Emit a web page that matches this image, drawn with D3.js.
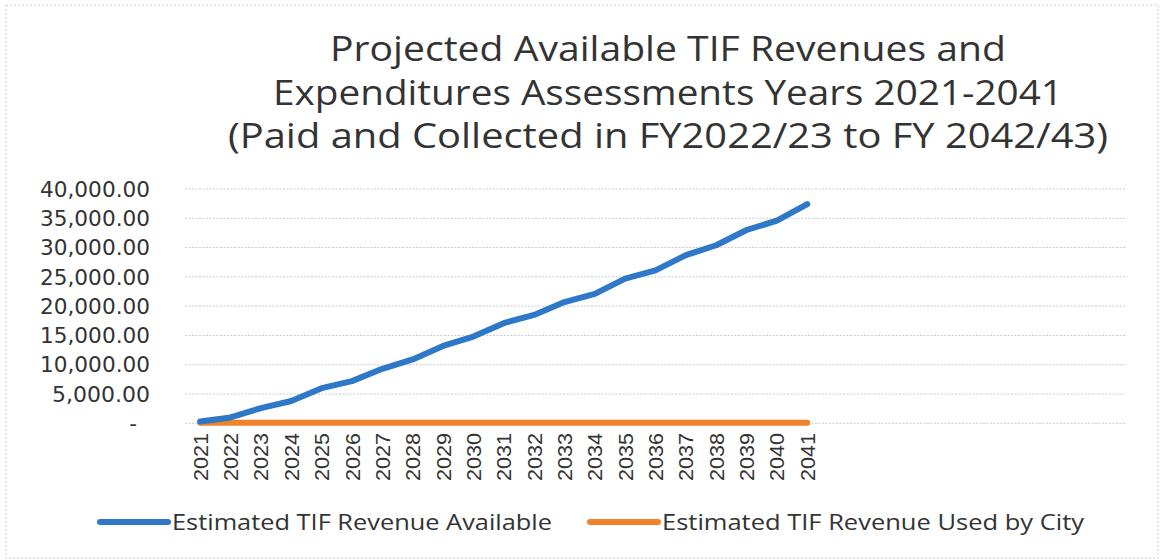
<!DOCTYPE html>
<html>
<head>
<meta charset="utf-8">
<script src="https://cdn.jsdelivr.net/npm/d3@7"></script>
<style>
html,body{margin:0;padding:0;background:#fff;}
svg{display:block;}
</style>
</head>
<body>
<svg id="chart" width="1161" height="560"></svg>
<script>
const titleLines = [
  "Projected Available TIF Revenues and",
  "Expenditures Assessments Years 2021-2041",
  "(Paid and Collected in FY2022/23 to FY 2042/43)"
];
const years = [2021,2022,2023,2024,2025,2026,2027,2028,2029,2030,2031,2032,2033,2034,2035,2036,2037,2038,2039,2040,2041];
const revenueAvailable = [300,1000,2600,3800,6000,7200,9300,10900,13200,14800,17100,18500,20700,22100,24700,26100,28700,30400,33000,34600,37400];
const revenueUsed = [100,100,100,100,100,100,100,100,100,100,100,100,100,100,100,100,100,100,100,100,100];
const yTicks = [0,5000,10000,15000,20000,25000,30000,35000,40000];
const seriesNames = ["Estimated TIF Revenue Available","Estimated TIF Revenue Used by City"];
const seriesColors = ["#2E78C7","#F0832A"];
const totalSlots = 31; // category slots on axis (last ones empty)

const svg = d3.select("#chart");

// border
svg.append("rect").attr("x",6).attr("y",5).attr("width",1152).attr("height",553)
  .attr("fill","none").attr("stroke","#cfcfcf").attr("stroke-width",1).attr("stroke-dasharray","2,2");

// title
const titleW = [676, 790, 880];
const titleY = [61, 105, 148];
svg.append("g").selectAll("text").data(titleLines).join("text")
  .attr("x",668).attr("y",(d,i)=>titleY[i])
  .attr("text-anchor","middle")
  .attr("font-family","'Open Sans', sans-serif")
  .attr("font-size",34)
  .attr("fill","#333")
  .attr("textLength",(d,i)=>titleW[i])
  .attr("lengthAdjust","spacingAndGlyphs")
  .text(d=>d);

const x = d3.scaleBand().domain(d3.range(totalSlots)).range([185,1126]);
const xc = i => x(i) + x.bandwidth()/2;
const y = d3.scaleLinear().domain([0,40000]).range([423.3,189]);

// gridlines
svg.append("g").selectAll("line").data(yTicks).join("line")
  .attr("x1",185).attr("x2",1127)
  .attr("y1",d=>y(d)).attr("y2",d=>y(d))
  .attr("stroke","#c4cad6").attr("stroke-width",1).attr("stroke-dasharray","2,1.5");

// y axis labels
const fmt = d3.format(",.2f");
svg.append("g").selectAll("text").data(yTicks).join("text")
  .attr("x",d=> d===0 ? 137 : 150)
  .attr("y",d=>y(d)).attr("dy","0.36em")
  .attr("text-anchor","end")
  .attr("font-family","'DejaVu Sans', sans-serif")
  .attr("font-size",21.5)
  .attr("fill","#333")
  .attr("textLength",d=> d===0 ? null : (d>=10000 ? 110 : 98))
  .attr("lengthAdjust","spacingAndGlyphs")
  .text(d=> d===0 ? "-" : fmt(d));

// x axis labels
svg.append("g").selectAll("text").data(years).join("text")
  .attr("transform",(d,i)=>`translate(${xc(i)},433) rotate(-90)`)
  .attr("dy","0.36em")
  .attr("text-anchor","end")
  .attr("font-family","'Liberation Sans', Arial, sans-serif")
  .attr("font-size",21)
  .attr("fill","#333")
  .attr("textLength",48)
  .attr("lengthAdjust","spacingAndGlyphs")
  .text(d=>d);

// lines
const line = d3.line().x((d,i)=>xc(i)).y(d=>y(d)).curve(d3.curveLinear);
[revenueUsed, revenueAvailable].forEach((s,k)=>{
  const idx = k===0 ? 1 : 0;
  svg.append("path").datum(s)
    .attr("d",line)
    .attr("fill","none")
    .attr("stroke",seriesColors[idx])
    .attr("stroke-width",6)
    .attr("stroke-linecap","round")
    .attr("stroke-linejoin","round");
});

// legend
const legX = [100, 590];
const legTextW = [380, 422];
const lg = svg.append("g");
seriesNames.forEach((name,i)=>{
  lg.append("line").attr("x1",legX[i]).attr("x2",legX[i]+68)
    .attr("y1",522).attr("y2",522)
    .attr("stroke",seriesColors[i]).attr("stroke-width",6).attr("stroke-linecap","round");
  lg.append("text").attr("x",legX[i]+72).attr("y",530)
    .attr("font-family","'Open Sans', sans-serif")
    .attr("font-size",21)
    .attr("fill","#333")
    .attr("textLength",legTextW[i])
    .attr("lengthAdjust","spacingAndGlyphs")
    .text(name);
});
</script>
</body>
</html>
